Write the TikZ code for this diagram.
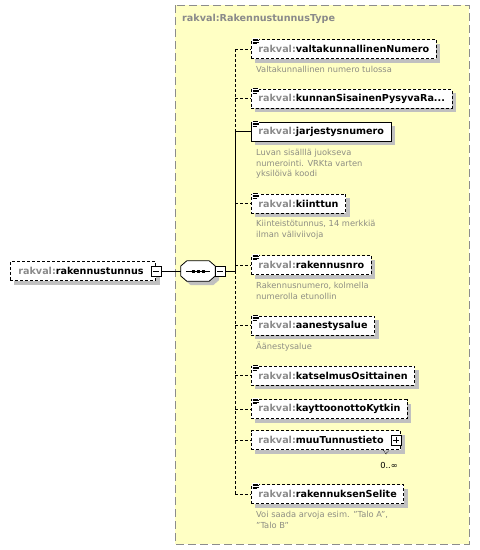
\documentclass[tikz,border=0pt]{standalone}
\usepackage{fontspec}
\setmainfont{DejaVu Sans}
\usepackage{tikz}
\usetikzlibrary{shadows,calc}
\definecolor{typebg}{HTML}{FFFFC4}
\definecolor{typeline}{HTML}{8C8C8C}
\definecolor{pfxgray}{HTML}{8A8A8A}
\definecolor{descgray}{HTML}{8E8E84}
\definecolor{shadowgray}{HTML}{C0C0C0}
\newcommand{\pfx}{\textcolor{pfxgray}{rakval:}}
\newcommand{\docicon}[1]{%
  \fill[white] ($(#1.north west)+(0.5,-1)$) rectangle ($(#1.north west)+(7.5,5.5)$);
  \draw[line width=0.8pt] ($(#1.north west)+(1.5,0)$) -- ++(5,0)
    ($(#1.north west)+(1.5,1.5)$) -- ++(6,0)
    ($(#1.north west)+(1.5,3)$) -- ++(6,0)
    ($(#1.north west)+(1.5,4.5)$) -- ++(4,0);}
\tikzset{
  lblfont/.style={font=\fontsize{9.6}{11}\selectfont\bfseries},
  shadowed/.style={drop shadow={shadow xshift=4pt, shadow yshift=-4pt, fill=shadowgray, opacity=1}},
  elem/.style={draw, fill=white, line width=0.8pt, anchor=west, minimum height=19pt,
    inner xsep=7pt, inner ysep=0pt, lblfont, shadowed},
  elemopt/.style={elem, dash pattern=on 3pt off 2pt},
  desc/.style={anchor=north west, inner sep=0pt, align=left, text=descgray,
    font=\fontsize{8.3}{10.7}\selectfont},
  minusbox/.style={draw, fill=white, line width=0.8pt, minimum size=10pt, inner sep=0pt,
    path picture={\draw[line width=0.8pt] ([xshift=2pt]path picture bounding box.west)
      -- ([xshift=-2pt]path picture bounding box.east);}},
  plusbox/.style={draw, fill=white, line width=0.8pt, minimum size=10pt, inner sep=0pt,
    path picture={\draw[line width=0.8pt] ([xshift=2pt]path picture bounding box.west)
      -- ([xshift=-2pt]path picture bounding box.east)
      ([yshift=2pt]path picture bounding box.south)
      -- ([yshift=-2pt]path picture bounding box.north);}},
  conn/.style={line width=0.8pt},
  connopt/.style={line width=0.8pt, dash pattern=on 3pt off 2pt},
}

\begin{document}
\begin{tikzpicture}[x=1pt, y=-1pt]
    \useasboundingbox (0,0) rectangle (480,550);
    % the complex type
    \draw [fill=typebg, draw=typeline, line width=1pt, dash pattern=on 8pt off 4pt] (175,5) rectangle (469,544);
    \node [anchor=west, inner sep=0pt, text=pfxgray, lblfont] (ttl) at (182,19) {rakval:RakennustunnusType};

    % root element and sequence
    \node [elemopt, inner xsep=8pt] (root) at (10,271) {\pfx rakennustunnus\kern4pt};
    \node [minusbox] (rootm) at (root.east) {};
    \node [minimum width=34pt, minimum height=20pt, inner sep=0pt] (seq) at (198,271) {};
    \draw [fill=white, line width=0.8pt, shadowed]
        ($(seq.west)+(0,-5)$) -- ($(seq.north west)+(6,0)$) -- ($(seq.north east)+(-6,0)$)
        -- ($(seq.east)+(0,-5)$) -- ($(seq.east)+(0,5)$) -- ($(seq.south east)+(-6,0)$)
        -- ($(seq.south west)+(6,0)$) -- ($(seq.west)+(0,5)$) -- cycle;
    \draw [line width=0.8pt] ([xshift=5pt]seq.west) -- ([xshift=-5pt]seq.east);
    \fill ([xshift=-5pt]seq.center) +(-1.5,-1.5) rectangle +(1.5,1.5);
    \fill (seq.center) +(-1.5,-1.5) rectangle +(1.5,1.5);
    \fill ([xshift=5pt]seq.center) +(-1.5,-1.5) rectangle +(1.5,1.5);
    \node [minusbox] (seqm) at ([xshift=5pt]seq.east) {};
    \draw [conn] (rootm.east) -- (seq.west);

    % child elements
    \node [elemopt] (el1) at (251,49) {\pfx valtakunnallinenNumero};
    \node [elemopt] (el2) at (251,98.5) {\pfx kunnanSisainenPysyvaRa...};
    \node [elem] (el3) at (251,131.5) {\pfx jarjestysnumero};
    \node [elemopt] (el4) at (251,203.5) {\pfx kiinttun};
    \node [elemopt] (el5) at (251,265) {\pfx rakennusnro};
    \node [elemopt] (el6) at (251,325.5) {\pfx aanestysalue};
    \node [elemopt] (el7) at (251,375.5) {\pfx katselmusOsittainen};
    \node [elemopt] (el8) at (251,409) {\pfx kayttoonottoKytkin};
    \node [elemopt] (el9) at (251,440) {\pfx muuTunnustieto\kern10pt};
    \node [elemopt] (el10) at (251,494) {\pfx rakennuksenSelite};
    \docicon{el1} \docicon{el2} \docicon{el3} \docicon{el4} \docicon{el5}
    \docicon{el6} \docicon{el7} \docicon{el8} \docicon{el10}
    \node [plusbox] (el9p) at ([xshift=-5pt]el9.east) {};
    \draw [line width=0.6pt, dash pattern=on 1pt off 1pt] ([xshift=-18pt]el9.south east) -- ++(3,4) -- ++(3,-4);
    \node [inner sep=0pt, font=\fontsize{8.3}{10}\selectfont] (el9n) at (389,465) {0..∞};

    % annotations
    \node [desc] (d1) at (256,66) {Valtakunnallinen numero tulossa};
    \node [desc] (d3) at (256,149) {Luvan sisälllä juokseva\\numerointi. VRKta varten\\yksilöivä koodi};
    \node [desc] (d4) at (256,220) {Kiinteistötunnus, 14 merkkiä\\ilman väliviivoja};
    \node [desc] (d5) at (256,282) {Rakennusnumero, kolmella\\numerolla etunollin};
    \node [desc] (d6) at (256,342) {Äänestysalue};
    \node [desc] (d10) at (256,511) {Voi saada arvoja esim. "Talo A",\\"Talo B"};

    % connectors
    \coordinate (bs) at (235,271);
    \coordinate (b1) at (bs |- el1.west);
    \coordinate (b3) at (bs |- el3.west);
    \coordinate (b10) at (bs |- el10.west);
    \draw [conn] (seqm.east) -- (bs);
    \draw [connopt] (b1) -- (b3);
    \draw [conn] (b3) -- (bs);
    \draw [connopt] (bs) -- (b10);
    \draw [connopt] (b1) -- (el1.west);
    \draw [connopt] (bs |- el2.west) -- (el2.west);
    \draw [conn] (b3) -- (el3.west);
    \draw [connopt] (bs |- el4.west) -- (el4.west);
    \draw [connopt] (bs |- el5.west) -- (el5.west);
    \draw [connopt] (bs |- el6.west) -- (el6.west);
    \draw [connopt] (bs |- el7.west) -- (el7.west);
    \draw [connopt] (bs |- el8.west) -- (el8.west);
    \draw [connopt] (bs |- el9.west) -- (el9.west);
    \draw [connopt] (b10) -- (el10.west);
\end{tikzpicture}
\end{document}
